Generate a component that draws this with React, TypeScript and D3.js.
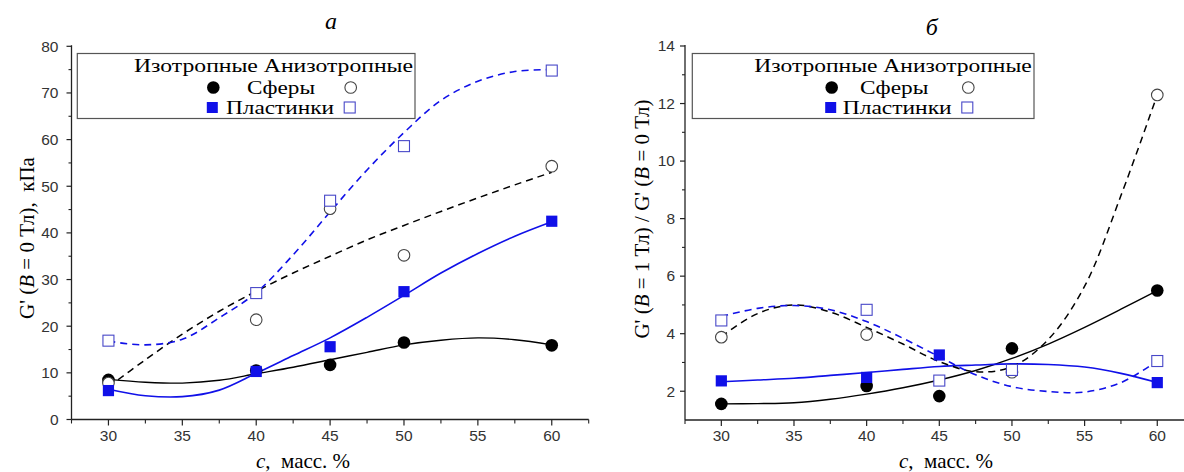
import * as d3 from "d3";

const W = 1184;
const H = 472;

// concentrations of the measured samples, масс. %
const conc = [30, 40, 45, 50, 60];
const fitConc = [30, 32.5, 35, 37.5, 40, 42.5, 45, 47.5, 50, 52.5, 55, 57.5, 60];
const xTicks = [30, 35, 40, 45, 50, 55, 60];

// panel "a": G'(B = 0 Tл), kPa
const aSpheresIso = [8.5, 10.5, 11.7, 16.5, 15.9];
const aSpheresAniso = [7.8, 21.4, 45.2, 35.2, 54.3];
const aPlatesIso = [6.2, 10.3, 15.6, 27.4, 42.5];
const aPlatesAniso = [16.9, 27.1, 46.9, 58.6, 74.8];
const aFitSpheresIso = [8.6, 8.0, 7.8, 8.4, 9.8, 11.2, 12.8, 14.4, 16.0, 17.0, 17.5, 17.1, 16.0];
const aFitSpheresAniso = [7.0, 12.8, 18.3, 23.2, 27.5, 31.4, 35.0, 38.5, 41.6, 44.6, 47.5, 50.3, 53.0];
const aFitPlatesIso = [6.5, 5.1, 4.9, 6.3, 9.9, 13.7, 17.5, 21.9, 26.6, 31.4, 35.6, 39.3, 42.4];
const aFitPlatesAniso = [16.8, 16.0, 17.2, 21.8, 27.2, 35.3, 44.5, 53.5, 61.5, 68.4, 72.5, 74.6, 75.0];
const aYTicks = [0, 10, 20, 30, 40, 50, 60, 70, 80];

// panel "б": G'(B = 1 Tл) / G'(B = 0 Tл)
const bSpheresIso = [1.56, 2.18, 1.83, 3.49, 5.5];
const bSpheresAniso = [3.88, 3.97, null, 2.66, 12.3];
const bPlatesIso = [2.36, 2.48, 3.26, null, 2.3];
const bPlatesAniso = [4.46, 4.83, 2.37, 2.74, 3.05];
const bFitSpheresIso = [1.56, 1.57, 1.6, 1.72, 1.9, 2.12, 2.39, 2.72, 3.14, 3.64, 4.22, 4.85, 5.5];
const bFitSpheresAniso = [3.9, 4.7, 5.0, 4.75, 4.22, 3.64, 3.03, 2.68, 2.85, 3.8, 5.65, 8.8, 12.3];
const bFitPlatesIso = [2.33, 2.39, 2.45, 2.55, 2.65, 2.76, 2.86, 2.91, 2.95, 2.93, 2.84, 2.62, 2.3];
const bFitPlatesAniso = [4.6, 4.88, 4.98, 4.83, 4.42, 3.84, 3.2, 2.57, 2.16, 1.99, 1.97, 2.3, 3.05];
const bYTicks = [2, 4, 6, 8, 10, 12, 14];

const BLUE = "#1010e8";
const OPEN_BLUE = "#4848c8";
const SERIF = "Liberation Serif, Times New Roman, serif";
const SANS = "Liberation Sans, Arial, sans-serif";

type Num = number | null;

type PanelProps = {
  x0: number;
  x1: number;
  yDomain: [number, number];
  yBottom: number;
  yTop: number;
  yTicks: number[];
  yMinorStep: number;
  tickGap: number;
  spheresIso: Num[];
  spheresAniso: Num[];
  platesIso: Num[];
  platesAniso: Num[];
  fitSpheresIso: number[];
  fitSpheresAniso: number[];
  fitPlatesIso: number[];
  fitPlatesAniso: number[];
  title: string;
  titleX: number;
  titleY: number;
  yLabel: React.ReactNode;
  yLabelX: number;
  yLabelY: number;
  xLabelX: number;
  legend: { x: number; x2: number; textX: number; textX2: number; spX: number; spX2: number; plX: number; plX2: number; m1: number; m2: number };
};

function Legend({ l }: { l: PanelProps["legend"] }) {
  const top = 53.5;
  return (
    <g fontFamily={SERIF} fontSize={19.5}>
      <rect x={l.x} y={top} width={l.x2 - l.x} height={65} fill="#fff" stroke="#555" strokeWidth={1.2} />
      <text x={l.textX} y={72} textLength={l.textX2 - l.textX} lengthAdjust="spacingAndGlyphs">
        Изотропные Анизотропные
      </text>
      <circle cx={l.m1} cy={87.5} r={6.3} fill="#000" />
      <text x={l.spX} y={94} textLength={l.spX2 - l.spX} lengthAdjust="spacingAndGlyphs">
        Сферы
      </text>
      <circle cx={l.m2} cy={87.5} r={5.8} fill="#fff" stroke="#444" strokeWidth={1.1} />
      <rect x={l.m1 - 5.5 - 1} y={107.5 - 5.5} width={11} height={11} fill={BLUE} />
      <text x={l.plX} y={113.5} textLength={l.plX2 - l.plX} lengthAdjust="spacingAndGlyphs">
        Пластинки
      </text>
      <rect x={l.m2 - 5.5 - 1} y={107.5 - 5.5} width={11} height={11} fill="#fff" stroke={OPEN_BLUE} strokeWidth={1.1} />
    </g>
  );
}

function Panel(p: PanelProps) {
  const x = d3.scaleLinear().domain([27.5, 62.5]).range([p.x0, p.x1]);
  const y = d3.scaleLinear().domain(p.yDomain).range([p.yBottom, p.yTop]);
  const axisY = p.yBottom;

  const line = d3
    .line<[number, number]>()
    .x((d) => x(d[0]))
    .y((d) => y(d[1]))
    .curve(d3.curveCatmullRom.alpha(0.5));
  const fit = (vals: number[]) => line(fitConc.map((c, i) => [c, vals[i]] as [number, number])) || "";
  const pts = (vals: Num[]) =>
    conc.map((c, i) => ({ c, v: vals[i] })).filter((d) => d.v !== null) as { c: number; v: number }[];

  const xMinor = d3.range(27.5, 62.51, 2.5).filter((v) => !xTicks.includes(v));
  const yMinor = d3
    .range(p.yDomain[0], p.yDomain[1] + 0.001, p.yMinorStep)
    .filter((v) => !p.yTicks.includes(v) && v > p.yDomain[0]);

  return (
    <g>
      {/* fitted curves */}
      <path d={fit(p.fitSpheresIso)} fill="none" stroke="#000" strokeWidth={1.4} />
      <path d={fit(p.fitPlatesIso)} fill="none" stroke={BLUE} strokeWidth={1.6} />
      <path d={fit(p.fitSpheresAniso)} fill="none" stroke="#000" strokeWidth={1.5} strokeDasharray="7 5" />
      <path d={fit(p.fitPlatesAniso)} fill="none" stroke={BLUE} strokeWidth={1.6} strokeDasharray="7 5" />

      {/* markers */}
      {pts(p.spheresIso).map((d, i) => (
        <circle key={"si" + i} cx={x(d.c)} cy={y(d.v)} r={6.3} fill="#000" />
      ))}
      {pts(p.spheresAniso).map((d, i) => (
        <circle key={"sa" + i} cx={x(d.c)} cy={y(d.v)} r={5.8} fill="#fff" stroke="#444" strokeWidth={1.1} />
      ))}
      {pts(p.platesIso).map((d, i) => (
        <rect key={"pi" + i} x={x(d.c) - 5.6} y={y(d.v) - 5.6} width={11.2} height={11.2} fill={BLUE} />
      ))}
      {pts(p.platesAniso).map((d, i) => (
        <rect key={"pa" + i} x={x(d.c) - 5.5} y={y(d.v) - 5.5} width={11} height={11} fill="#fff" stroke={OPEN_BLUE} strokeWidth={1.1} />
      ))}

      {/* axes */}
      <line x1={p.x0} x2={p.x1} y1={axisY} y2={axisY} stroke="#222" strokeWidth={1.3} />
      <line x1={p.x0} x2={p.x0} y1={axisY} y2={p.yTop - 1} stroke="#222" strokeWidth={1.3} />
      {xTicks.map((t) => (
        <g key={"xt" + t}>
          <line x1={x(t)} x2={x(t)} y1={axisY} y2={axisY + 6} stroke="#222" strokeWidth={1.2} />
          <text x={x(t)} y={441} textAnchor="middle" fontFamily={SANS} fontSize={15.5} fill="#333">
            {t}
          </text>
        </g>
      ))}
      {xMinor.map((t) => (
        <line key={"xm" + t} x1={x(t)} x2={x(t)} y1={axisY} y2={axisY + 4} stroke="#222" strokeWidth={1.1} />
      ))}
      {p.yTicks.map((t) => (
        <g key={"yt" + t}>
          <line x1={p.x0 - 5} x2={p.x0} y1={y(t)} y2={y(t)} stroke="#222" strokeWidth={1.2} />
          <text x={p.x0 - 5 - p.tickGap} y={y(t) + 5.3} textAnchor="end" fontFamily={SANS} fontSize={15.5} fill="#333">
            {t}
          </text>
        </g>
      ))}
      {yMinor.map((t) => (
        <line key={"ym" + t} x1={p.x0 - 3} x2={p.x0} y1={y(t)} y2={y(t)} stroke="#222" strokeWidth={1.1} />
      ))}

      {/* labels */}
      <text x={p.titleX} y={p.titleY} textAnchor="middle" fontFamily={SERIF} fontStyle="italic" fontSize={24}>
        {p.title}
      </text>
      <text x={p.xLabelX} y={468} textAnchor="middle" fontFamily={SERIF} fontSize={21} style={{ whiteSpace: "pre" }}>
        <tspan fontStyle="italic">c</tspan>
        {",  масс. %"}
      </text>
      <text
        transform={`translate(${p.yLabelX},${p.yLabelY}) rotate(-90)`}
        textAnchor="middle"
        fontFamily={SERIF}
        fontSize={21}
        style={{ whiteSpace: "pre" }}
      >
        {p.yLabel}
      </text>

      <Legend l={p.legend} />
    </g>
  );
}

export default function App() {
  return (
    <svg width={W} height={H} style={{ position: "absolute", left: 0, top: 0, background: "#fff" }}>
      <rect width={W} height={H} fill="#fff" />
      <Panel
        x0={71.5}
        x1={588.7}
        yDomain={[0, 80]}
        yBottom={419.5}
        yTop={46.3}
        yTicks={aYTicks}
        yMinorStep={5}
        tickGap={8}
        spheresIso={aSpheresIso}
        spheresAniso={aSpheresAniso}
        platesIso={aPlatesIso}
        platesAniso={aPlatesAniso}
        fitSpheresIso={aFitSpheresIso}
        fitSpheresAniso={aFitSpheresAniso}
        fitPlatesIso={aFitPlatesIso}
        fitPlatesAniso={aFitPlatesAniso}
        title="a"
        titleX={331}
        titleY={29}
        yLabel={
          <>
            {"G' ("}
            <tspan fontStyle="italic">B</tspan>
            {" = 0 Тл),  кПа"}
          </>
        }
        yLabelX={34}
        yLabelY={238}
        xLabelX={303}
        legend={{ x: 77.3, x2: 415, textX: 134, textX2: 413, spX: 247, spX2: 315, plX: 226, plX2: 334, m1: 213.3, m2: 350.7 }}
      />
      <Panel
        x0={685}
        x1={1193.6}
        yDomain={[1, 14]}
        yBottom={420}
        yTop={46}
        yTicks={bYTicks}
        yMinorStep={1}
        tickGap={5}
        spheresIso={bSpheresIso}
        spheresAniso={bSpheresAniso}
        platesIso={bPlatesIso}
        platesAniso={bPlatesAniso}
        fitSpheresIso={bFitSpheresIso}
        fitSpheresAniso={bFitSpheresAniso}
        fitPlatesIso={bFitPlatesIso}
        fitPlatesAniso={bFitPlatesAniso}
        title="б"
        titleX={931.7}
        titleY={35}
        yLabel={
          <>
            {"G' ("}
            <tspan fontStyle="italic">B</tspan>
            {" = 1 Тл) / G' ("}
            <tspan fontStyle="italic">B</tspan>
            {" = 0 Тл)"}
          </>
        }
        yLabelX={649}
        yLabelY={219}
        xLabelX={946}
        legend={{ x: 692.3, x2: 1034, textX: 754.3, textX2: 1031.7, spX: 860, spX2: 928.3, plX: 842.7, plX2: 951.7, m1: 831.7, m2: 968.3 }}
      />
    </svg>
  );
}
